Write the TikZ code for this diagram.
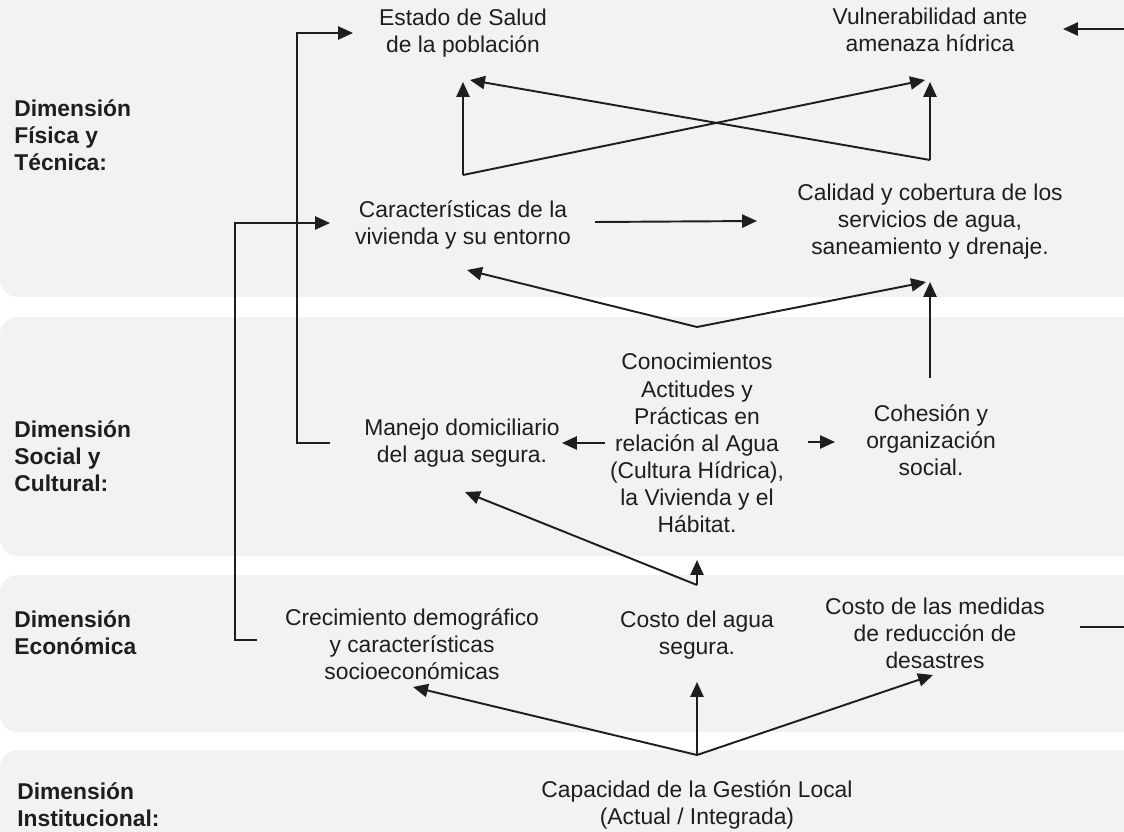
\documentclass[tikz,border=0pt]{standalone}
\usepackage{fontspec}
\setmainfont{Liberation Sans}
\usepackage{tikz}
\usetikzlibrary{arrows.meta, calc, positioning}
\definecolor{Band}{RGB}{242,242,242}
\definecolor{Ink}{RGB}{30,30,30}

\begin{document}
\begin{tikzpicture}[x=0.02cm, y=-0.02cm,
    txt/.style={font=\fontsize{13}{15.4}\selectfont, align=center, inner sep=0pt, text=Ink},
    dim/.style={font=\fontsize{13}{15.4}\selectfont\bfseries, align=left, anchor=west, inner sep=0pt, text=Ink},
    band/.style={fill=Band, draw=none, rounded corners=10pt},
    arr/.style={-{Triangle[length=8.5pt,width=7.5pt]}, line width=1.1pt, draw=Ink},
    line/.style={line width=1.1pt, draw=Ink}]
      \useasboundingbox (0,0) rectangle (1124,831);
      \clip (0,0) rectangle (1124,831);
      % bandas de las dimensiones
      \fill[band] (0,-20) rectangle (1144,297);
      \fill[band] (0,317) rectangle (1144,556);
      \fill[band] (0,575) rectangle (1144,732);
      \fill[band] (0,750) rectangle (1144,851);

      \node[dim] (dimfis) at (14,135) {Dimensión\\Física y\\Técnica:};
      \node[dim] (dimsoc) at (14,456) {Dimensión\\Social y\\Cultural:};
      \node[dim] (dimeco) at (14,633) {Dimensión\\Económica};
      \node[dim] (diminst) at (17,805) {Dimensión\\Institucional:};

      \node[txt] (estado) at (463,33.5) {Estado de Salud\\de la población};
      \node[txt] (vulner) at (930,30) {Vulnerabilidad ante\\amenaza hídrica};
      \node[txt] (caract) at (463,224.5) {Características de la\\vivienda y su entorno};
      \node[txt] (calidad) at (930,222) {Calidad y cobertura de los\\servicios de agua,\\saneamiento y drenaje.};
      \node[txt] (conoc) at (697,443) {Conocimientos\\Actitudes y\\Prácticas en\\relación al Agua\\(Cultura Hídrica),\\la Vivienda y el\\Hábitat.};
      \node[txt] (manejo) at (462,443.5) {Manejo domiciliario\\del agua segura.};
      \node[txt] (cohesion) at (931,440) {Cohesión y\\organización\\social.};
      \node[txt] (crecim) at (412,644) {Crecimiento demográfico\\y características\\socioeconómicas};
      \node[txt] (costoagua) at (697,635) {Costo del agua\\segura.};
      \node[txt] (costomed) at (935,633.5) {Costo de las medidas\\de reducción de\\desastres};
      \node[txt] (capac) at (697,804.5) {Capacidad de la Gestión Local\\(Actual / Integrada)};

      \coordinate (jcar) at ($(caract)+(0,-49.5)$);
      \coordinate (jcal) at ($(calidad)+(0,-62)$);
      \coordinate (jcon) at ($(conoc)+(0,-116)$);
      \coordinate (jcos) at ($(costoagua)+(0,-50)$);
      \coordinate (jcap) at ($(capac)+(0,-49.5)$);
      \coordinate (rin) at (1124,29);
      \coordinate (rout) at (1124,627);

      % conectores laterales
      \draw[arr] ($(manejo)+(-132,-0.5)$) -- ++(-33,0) |- ($(estado)+(-110,-0.5)$);
      \draw[arr] ($(crecim)+(-155,-4)$) -- ++(-22,0) |- ($(caract)+(-133,-1.5)$);
      \draw[arr] (rin) -- ($(vulner)+(133,-1)$);
      \draw[line] ($(costomed)+(145,-6.5)$) -- (rout);

      % dimension fisica
      \draw[arr] (jcar) -- ($(estado)+(0,48.5)$);
      \draw[arr] (jcar) -- ($(vulner)+(-5,50)$);
      \draw[arr] (jcal) -- ($(vulner)+(0,52)$);
      \draw[arr] (jcal) -- ($(estado)+(7,46.5)$);
      \draw[arr] ($(caract)+(132,-2.5)$) -- ($(calidad)+(-173,-1)$);

      % dimension social
      \draw[arr] (jcon) -- ($(caract)+(4,45.5)$);
      \draw[arr] (jcon) -- ($(calidad)+(-4,60)$);
      \draw[arr] ($(cohesion)+(-1,-62)$) -- ($(calidad)+(0,60)$);
      \draw[arr] ($(conoc)+(-92,0)$) -- ($(manejo)+(100,-0.5)$);
      \draw[arr] ($(conoc)+(111,-1)$) -- ($(cohesion)+(-96,2)$);

      % dimension economica
      \draw[arr] (jcos) -- ($(conoc)+(0,117)$);
      \draw[arr] (jcos) -- ($(manejo)+(3,48.5)$);
      \draw[arr] (jcap) -- ($(crecim)+(1,43)$);
      \draw[arr] (jcap) -- ($(costoagua)+(0,47)$);
      \draw[arr] (jcap) -- ($(costomed)+(-2,41.5)$);
    \end{tikzpicture}
\end{document}
